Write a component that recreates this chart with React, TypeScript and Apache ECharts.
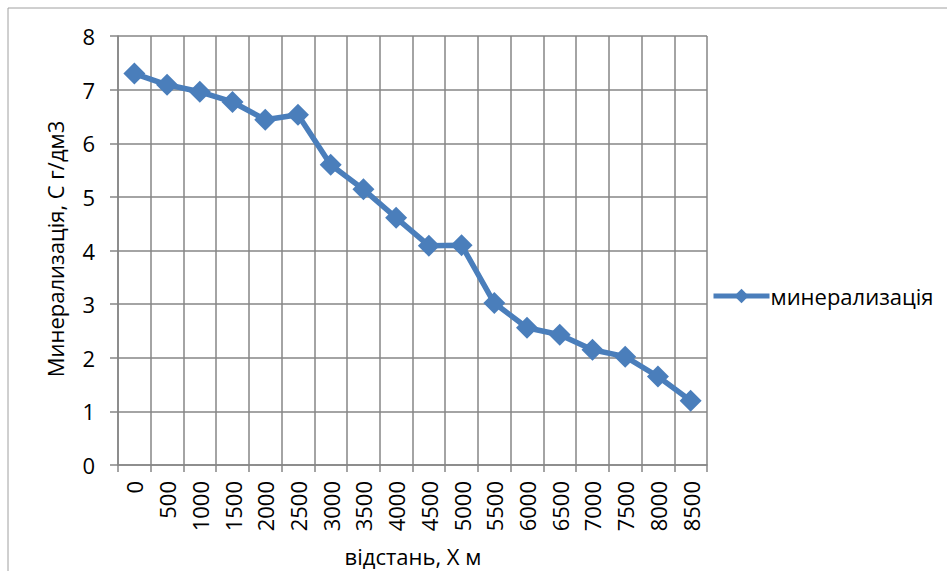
import React, { useEffect, useRef } from "react";
import * as echarts from "echarts";

const categories = ["0", "500", "1000", "1500", "2000", "2500", "3000", "3500", "4000", "4500", "5000", "5500", "6000", "6500", "7000", "7500", "8000", "8500"];
const mineralization = [7.3, 7.09, 6.96, 6.77, 6.44, 6.53, 5.6, 5.14, 4.61, 4.09, 4.1, 3.02, 2.56, 2.43, 2.15, 2.02, 1.65, 1.2];
const seriesName = "минерализація";
const yTitle = "Минерализація, С г/дм3";
const xTitle = "відстань, X м";

const FONT = "Open Sans";
const GRID = "#868686";
const BLUE = "#4A7EBB";

export default function App() {
  const ref = useRef<HTMLDivElement>(null);
  useEffect(() => {
    if (!ref.current) return;
    const chart = echarts.init(ref.current, undefined, { renderer: "svg" });
    chart.setOption({
      animation: false,
      backgroundColor: "#fff",
      textStyle: { fontFamily: FONT },
      grid: { left: 118, top: 36, right: 240, bottom: 106, containLabel: false },
      legend: {
        data: [seriesName],
        left: 706,
        top: 280,
        itemWidth: 56,
        itemHeight: 18,
        itemGap: 0,
        lineStyle: { width: 5 },
        textStyle: { fontFamily: FONT, fontSize: 22, color: "#000", padding: [0, 0, 0, -4] },
      },
      graphic: [
        {
          type: "rect",
          shape: { x: 8, y: 8, width: 960, height: 600 },
          style: { fill: "none", stroke: "#a0a0a0", lineWidth: 1 },
          silent: true,
        },
        {
          type: "text",
          x: 413,
          y: 556,
          style: { text: xTitle, font: `22px "${FONT}"`, fill: "#000", align: "center", verticalAlign: "middle" },
        },
        {
          type: "text",
          x: 55,
          y: 249,
          rotation: Math.PI / 2,
          style: { text: yTitle, font: `22px "${FONT}"`, fill: "#000", align: "center", verticalAlign: "middle" },
        },
      ],
      xAxis: {
        type: "category",
        data: categories,
        boundaryGap: true,
        axisLine: { show: true, lineStyle: { color: GRID, width: 1.5 } },
        axisTick: { show: true, length: 7, alignWithLabel: false, lineStyle: { color: GRID, width: 1.5 } },
        splitLine: { show: true, lineStyle: { color: GRID, width: 1.5 } },
        axisLabel: { rotate: 90, margin: 16, fontSize: 22, color: "#000", fontFamily: FONT, interval: 0 },
      },
      yAxis: {
        type: "value",
        min: 0,
        max: 8,
        interval: 1,
        axisLine: { show: true, lineStyle: { color: GRID, width: 1.5 } },
        axisTick: { show: true, length: 8, lineStyle: { color: GRID, width: 1.5 } },
        splitLine: { show: true, lineStyle: { color: GRID, width: 1.5 } },
        axisLabel: { margin: 23, fontSize: 22, color: "#000", fontFamily: FONT },
      },
      series: [
        {
          name: seriesName,
          type: "line",
          data: mineralization,
          symbol: "diamond",
          symbolSize: 22,
          itemStyle: { color: BLUE },
          lineStyle: { color: BLUE, width: 5.5 },
        },
      ],
    });
    return () => chart.dispose();
  }, []);
  return <div ref={ref} style={{ position: "absolute", left: 0, top: 0, width: 947, height: 571 }} />;
}
